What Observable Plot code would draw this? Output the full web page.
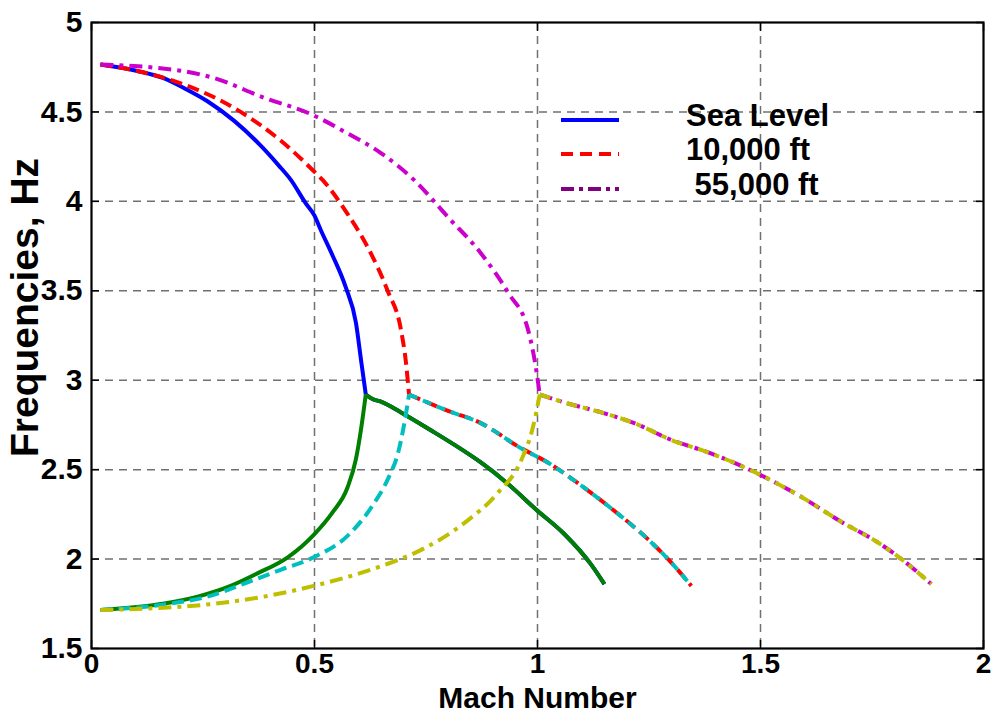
<!DOCTYPE html>
<html><head><meta charset="utf-8">
<script src="https://cdn.jsdelivr.net/npm/d3@7"></script>
<script src="https://cdn.jsdelivr.net/npm/@observablehq/plot@0.6"></script>
<style>
body{margin:0;background:#fff;}
#wrap{position:relative;width:994px;height:713px;overflow:hidden;}
#legend{position:absolute;left:0;top:0;pointer-events:none;}
</style></head><body><div id="wrap"></div>
<script>
// ---- data (Mach number, frequency Hz) ----
const xTicks = [0, 0.5, 1, 1.5, 2];
const yTicks = [1.5, 2, 2.5, 3, 3.5, 4, 4.5, 5];
const xTickLabels = ["0", "0.5", "1", "1.5", "2"];
const yTickLabels = ["1.5", "2", "2.5", "3", "3.5", "4", "4.5", "5"];
const legendLabels = ["Sea Level", "10,000 ft", " 55,000 ft"];

const seaUpper = [[0.02,4.765],[0.10,4.73],[0.16,4.69],[0.21,4.63],[0.26,4.56],[0.32,4.45],[0.38,4.31],[0.42,4.20],[0.447,4.12],[0.48,3.99],[0.50,3.92],[0.514,3.84],[0.54,3.70],[0.57,3.52],[0.593,3.32],[0.605,3.10],[0.615,2.92]];
const seaLower = [[0.02,1.715],[0.16,1.75],[0.238,1.79],[0.312,1.85],[0.372,1.92],[0.44,2.01],[0.50,2.14],[0.54,2.26],[0.574,2.40],[0.593,2.56],[0.604,2.72],[0.615,2.92]];
const seaMerged = [[0.615,2.92],[0.63,2.895],[0.649,2.88],[0.694,2.82],[0.761,2.72],[0.813,2.64],[0.873,2.54],[0.934,2.42],[1.0,2.27],[1.06,2.14],[1.12,1.97],[1.15,1.86]];

const k10Upper = [[0.02,4.765],[0.10,4.73],[0.20,4.66],[0.328,4.51],[0.424,4.34],[0.498,4.17],[0.518,4.12],[0.574,3.93],[0.62,3.74],[0.664,3.50],[0.694,3.28],[0.705,3.10],[0.712,2.92]];
const k10Lower = [[0.02,1.715],[0.16,1.745],[0.26,1.79],[0.35,1.87],[0.424,1.94],[0.498,2.01],[0.574,2.13],[0.633,2.31],[0.665,2.45],[0.688,2.60],[0.70,2.74],[0.712,2.92]];
const k10Merged = [[0.712,2.92],[0.798,2.83],[0.873,2.76],[0.963,2.62],[1.023,2.54],[1.082,2.44],[1.172,2.27],[1.248,2.11],[1.30,1.98],[1.345,1.85]];

const k55Upper = [[0.02,4.765],[0.20,4.73],[0.274,4.69],[0.386,4.58],[0.49,4.49],[0.574,4.38],[0.649,4.27],[0.723,4.12],[0.80,3.91],[0.873,3.71],[0.934,3.49],[0.979,3.28],[0.997,3.06],[1.005,2.92]];
const k55Lower = [[0.02,1.715],[0.274,1.75],[0.386,1.79],[0.498,1.85],[0.649,1.96],[0.738,2.05],[0.835,2.20],[0.911,2.37],[0.963,2.55],[0.99,2.74],[1.005,2.92]];
const k55Merged = [[1.005,2.92],[1.068,2.87],[1.143,2.82],[1.217,2.76],[1.306,2.66],[1.367,2.61],[1.40,2.58],[1.50,2.47],[1.59,2.35],[1.68,2.21],[1.765,2.09],[1.816,2.00],[1.883,1.86]];

// ---- styles ----
const DASH = "12,6";
const DASHDOT = "13,6,4,6";
const series = [
  {pts: seaUpper, stroke: "#0000ff", dash: null},
  {pts: seaMerged, stroke: "#0000ff", dash: null},
  {pts: k10Upper, stroke: "#ff0000", dash: DASH},
  {pts: k10Merged, stroke: "#ff0000", dash: DASH},
  {pts: k55Upper, stroke: "#cc00cc", dash: DASHDOT},
  {pts: k55Merged, stroke: "#cc00cc", dash: DASHDOT},
  {pts: seaLower, stroke: "#008000", dash: null},
  {pts: seaMerged, stroke: "#008000", dash: null},
  {pts: k10Lower, stroke: "#00bfbf", dash: DASH},
  {pts: k10Merged, stroke: "#00bfbf", dash: "9,6"},
  {pts: k55Lower, stroke: "#bfbf00", dash: DASHDOT},
  {pts: k55Merged, stroke: "#bfbf00", dash: "11,6,5,6"}
];
const legendStyles = [
  {stroke: "#0000ff", dash: null},
  {stroke: "#ff0000", dash: "12,7"},
  {stroke: "#800080", dash: "13,5,4,5"}
];

const FONT = "'Liberation Sans', Arial, Helvetica, sans-serif";
const fmtX = d => xTickLabels[xTicks.indexOf(d)];
const fmtY = d => yTickLabels[yTicks.indexOf(d)];
const gridStyle = {stroke: "#707070", strokeOpacity: 1, strokeWidth: 1.5, strokeDasharray: "8,6"};

const plot = Plot.plot({
  width: 994, height: 713,
  marginLeft: 91, marginRight: 11, marginTop: 22, marginBottom: 65,
  x: {domain: [0, 2]},
  y: {domain: [1.5, 5]},
  style: {fontFamily: FONT, fontWeight: "bold", color: "black", background: "white"},
  marks: [
    Plot.gridX(xTicks.slice(1, -1), gridStyle),
    Plot.gridY(yTicks.slice(1, -1), gridStyle),
    ...series.map(s => Plot.line(s.pts, {
      x: d => d[0], y: d => d[1], curve: "monotone-x",
      stroke: s.stroke, strokeWidth: 4,
      strokeDasharray: s.dash, strokeLinejoin: "round", strokeLinecap: "butt"
    })),
    Plot.frame({stroke: "black", strokeWidth: 2.2}),
    Plot.axisX(xTicks, {anchor: "bottom", tickSize: -8, tickPadding: 13, tickFormat: fmtX, fontSize: 28, fontWeight: "bold", label: null, strokeWidth: 1.5}),
    Plot.axisX(xTicks, {anchor: "top", tickSize: -8, tickFormat: () => "", label: null, strokeWidth: 1.5}),
    Plot.axisY(yTicks, {anchor: "left", tickSize: -8, tickPadding: 17, tickFormat: fmtY, fontSize: 30, fontWeight: "bold", label: null, strokeWidth: 1.5}),
    Plot.axisY(yTicks, {anchor: "right", tickSize: -8, tickFormat: () => "", label: null, strokeWidth: 1.5}),
    Plot.text(["Mach Number"], {frameAnchor: "bottom", dy: 59, lineAnchor: "bottom", fontSize: 30, fontWeight: "bold", fill: "black"}),
    Plot.text(["Frequencies, Hz"], {frameAnchor: "left", dx: -66, dy: -28, rotate: -90, textAnchor: "middle", lineAnchor: "middle", fontSize: 39, fontWeight: "bold", fill: "black"})
  ]
});
const wrap = document.getElementById("wrap");
wrap.appendChild(plot);

// ---- legend overlay ----
const ns = "http://www.w3.org/2000/svg";
const lg = document.createElementNS(ns, "svg");
lg.setAttribute("id", "legend");
lg.setAttribute("width", 994); lg.setAttribute("height", 713);
const rowY = [120, 154, 189];
const textX = [686, 686, 686];
legendLabels.forEach((lab, i) => {
  const ln = document.createElementNS(ns, "line");
  ln.setAttribute("x1", 561); ln.setAttribute("x2", 619);
  ln.setAttribute("y1", rowY[i]); ln.setAttribute("y2", rowY[i]);
  ln.setAttribute("stroke", legendStyles[i].stroke);
  ln.setAttribute("stroke-width", 4);
  if (legendStyles[i].dash) ln.setAttribute("stroke-dasharray", legendStyles[i].dash);
  lg.appendChild(ln);
  const t = document.createElementNS(ns, "text");
  t.setAttribute("x", textX[i]); t.setAttribute("y", rowY[i] + 6);
  t.setAttribute("font-family", FONT); t.setAttribute("font-weight", "bold");
  t.setAttribute("font-size", 31); t.setAttribute("xml:space", "preserve");
  t.style.whiteSpace = "pre";
  t.textContent = lab;
  lg.appendChild(t);
});
wrap.appendChild(lg);
</script></body></html>
